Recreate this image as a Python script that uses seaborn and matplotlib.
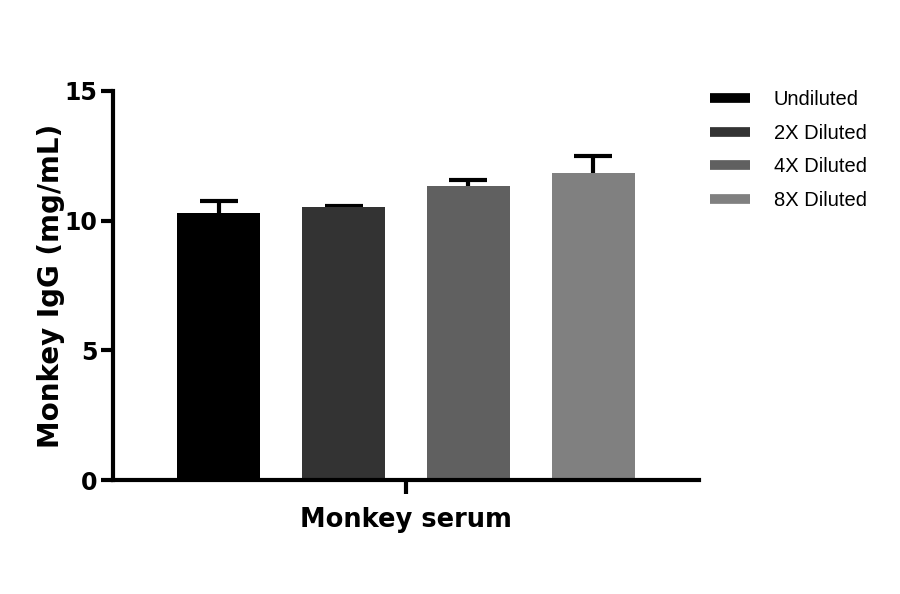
import matplotlib
matplotlib.use("Agg")
import matplotlib.pyplot as plt
from matplotlib.lines import Line2D
import seaborn as sns
import pandas as pd

# values
sample = ["Monkey serum"] * 4
dilutions = ["Undiluted", "2X Diluted", "4X Diluted", "8X Diluted"]
means = [10.31, 10.53, 11.34, 11.85]
errs = [0.43, 0.05, 0.23, 0.66]
colors = ["#000000", "#333333", "#606060", "#808080"]

df = pd.DataFrame({"sample": sample, "dilution": dilutions, "igg": means})

sns.set_theme(style="ticks")
plt.rcParams["font.family"] = ["DejaVu Sans"]
plt.rcParams["text.color"] = "black"
plt.rcParams["axes.labelcolor"] = "black"
plt.rcParams["xtick.color"] = "black"
plt.rcParams["ytick.color"] = "black"
plt.rcParams["axes.edgecolor"] = "black"

fig = plt.figure(figsize=(9, 5.94), dpi=100)
ax = fig.add_axes([113 / 900, 1 - 480 / 594, 586 / 900, 389 / 594])

sns.barplot(data=df, x="sample", y="igg", hue="dilution", palette=colors,
            width=0.8, gap=0.33, errorbar=None, saturation=1, ax=ax,
            legend=False, linewidth=0)

bars = ax.patches[:len(means)]
for b in bars:
    b.set_zorder(3)

# one-sided error bars, the lower half hidden behind the bar
xs = [b.get_x() + b.get_width() / 2 for b in bars]
ax.errorbar(xs, means, yerr=[errs, errs], fmt="none",
            ecolor="black", elinewidth=3, capsize=14, capthick=3, zorder=1)

ax.set_ylim(0, 15)
ax.set_xlim(-0.469, 0.469)
ax.set_yticks([0, 5, 10, 15])
sns.despine(ax=ax)
for s in ["left", "bottom"]:
    ax.spines[s].set_linewidth(3)
    ax.spines[s].set_zorder(4)
ax.tick_params(axis="both", width=3, length=9, labelsize=17)
ax.tick_params(axis="y", pad=2)
ax.tick_params(axis="x", length=10)
ax.set_xticklabels([""])
for lab in ax.get_yticklabels():
    lab.set_fontweight("bold")

ax.set_ylabel("Monkey IgG (mg/mL)", fontsize=20, fontweight="bold", labelpad=0)
ax.set_xlabel("Monkey serum", fontsize=18.5, fontweight="bold", labelpad=6)

handles = [Line2D([], [], color=c, lw=7, solid_capstyle="butt") for c in colors]
fig.legend(handles, dilutions, loc="upper left",
           bbox_to_anchor=(692 / 900, 1 - 72 / 594), frameon=False,
           handlelength=2.0, handletextpad=1.15, labelspacing=0.72,
           prop={"family": "Liberation Sans", "size": 14.5})

fig.savefig("out.png", dpi=100)
